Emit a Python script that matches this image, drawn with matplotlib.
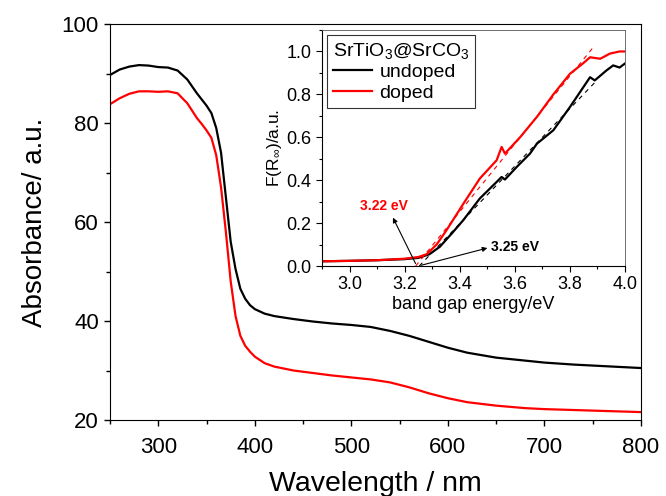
import matplotlib
matplotlib.use("Agg")
import matplotlib.pyplot as plt
from matplotlib.ticker import MultipleLocator

plt.rcParams['font.family'] = ['Liberation Sans', 'DejaVu Sans']
plt.rcParams['mathtext.fontset'] = 'custom'
plt.rcParams['mathtext.rm'] = 'Liberation Sans'
plt.rcParams['mathtext.it'] = 'Liberation Sans:italic'
plt.rcParams['mathtext.default'] = 'regular'

# ---- main spectra ----
wl_undoped = [250, 260, 270, 280, 290, 300, 310, 320, 330, 340, 350, 355, 360, 365, 370,
              375, 380, 385, 390, 395, 400, 410, 420, 440, 460, 480, 500, 520, 540, 560,
              580, 600, 620, 650, 680, 700, 730, 760, 800]
abs_undoped = [89.7, 90.8, 91.4, 91.7, 91.6, 91.3, 91.2, 90.6, 88.8, 86.0, 83.5, 82.0, 79.0,
               74.0, 65.0, 56.0, 50.5, 46.5, 44.5, 43.2, 42.4, 41.5, 41.0, 40.4, 39.9, 39.5,
               39.2, 38.8, 38.0, 37.0, 35.8, 34.6, 33.6, 32.6, 32.0, 31.6, 31.2, 30.9, 30.5]

wl_doped = [250, 260, 270, 280, 290, 300, 310, 320, 330, 340, 345, 350, 355, 360, 365, 370,
            375, 380, 385, 390, 395, 400, 410, 420, 440, 460, 480, 500, 520, 540, 560, 580,
            600, 620, 650, 680, 700, 750, 800]
abs_doped = [83.8, 85.0, 85.9, 86.4, 86.4, 86.3, 86.4, 86.0, 84.0, 81.0, 79.8, 78.5, 77.0,
             73.5, 67.0, 58.0, 48.0, 41.0, 37.0, 35.0, 33.8, 32.8, 31.5, 30.8, 30.0, 29.5,
             29.0, 28.6, 28.2, 27.6, 26.6, 25.4, 24.4, 23.6, 22.9, 22.4, 22.2, 21.9, 21.6]

# ---- inset: Kubelka-Munk ----
e_undoped = [2.9, 3.0, 3.1, 3.2, 3.25, 3.29, 3.328, 3.37, 3.413, 3.473, 3.534, 3.552, 3.564,
             3.607, 3.655, 3.68, 3.74, 3.80, 3.873, 3.89, 3.933, 3.957, 3.98, 4.0]
f_undoped = [0.022, 0.024, 0.027, 0.032, 0.038, 0.055, 0.09, 0.15, 0.214, 0.315, 0.392, 0.415,
             0.403, 0.462, 0.524, 0.57, 0.633, 0.741, 0.88, 0.865, 0.912, 0.935, 0.925, 0.944]

e_doped = [2.9, 3.0, 3.1, 3.2, 3.25, 3.28, 3.316, 3.352, 3.413, 3.473, 3.534, 3.552, 3.564,
           3.619, 3.68, 3.74, 3.80, 3.847, 3.873, 3.91, 3.945, 3.98, 4.0]
f_doped = [0.022, 0.024, 0.027, 0.034, 0.042, 0.055, 0.10, 0.167, 0.29, 0.408, 0.493, 0.555,
           0.524, 0.60, 0.695, 0.80, 0.896, 0.944, 0.973, 0.966, 0.99, 1.0, 1.0]

tan_undoped_e = [3.253, 3.89]
tan_undoped_f = [0.0, 0.855]
tan_doped_e = [3.24, 3.885]
tan_doped_f = [0.0, 1.02]

fig = plt.figure(figsize=(6.66, 4.96), dpi=100)
ax = fig.add_axes([0.1652, 0.1532, 0.7973, 0.7984])
ax.plot(wl_undoped, abs_undoped, color='black', lw=1.6)
ax.plot(wl_doped, abs_doped, color='red', lw=1.6)
ax.set_xlim(250, 800)
ax.set_ylim(20, 100)
ax.xaxis.set_major_locator(MultipleLocator(100))
ax.xaxis.set_minor_locator(MultipleLocator(50))
ax.yaxis.set_major_locator(MultipleLocator(20))
ax.yaxis.set_minor_locator(MultipleLocator(10))
ax.tick_params(which='both', direction='out', top=False, right=False, labelsize=16, width=1)
ax.tick_params(which='major', length=4.5)
ax.tick_params(which='minor', length=3)
ax.tick_params(axis='x', pad=8)
ax.set_xlabel('Wavelength / nm', fontsize=20.5, labelpad=9)
ax.set_ylabel('Absorbance/ a.u.', fontsize=20, labelpad=10)

# inset
ins = fig.add_axes([0.4835, 0.4637, 0.455, 0.4758])
ins.plot(e_undoped, f_undoped, color='black', lw=1.6, label='undoped')
ins.plot(e_doped, f_doped, color='red', lw=1.6, label='doped')
ins.plot(tan_doped_e, tan_doped_f, color='red', lw=0.8, ls=(0, (4, 4)))
ins.plot(tan_undoped_e, tan_undoped_f, color='black', lw=0.8, ls=(0, (4, 4)))
ins.set_xlim(2.9, 4.0)
ins.set_ylim(0, 1.1)
ins.xaxis.set_major_locator(MultipleLocator(0.2))
ins.xaxis.set_minor_locator(MultipleLocator(0.1))
ins.yaxis.set_major_locator(MultipleLocator(0.2))
ins.yaxis.set_minor_locator(MultipleLocator(0.1))
ins.tick_params(which='both', direction='out', top=False, right=False, labelsize=13, width=0.8)
ins.tick_params(which='major', length=4)
ins.tick_params(which='minor', length=2.5)
for s in ['top', 'right']:
    ins.spines[s].set_color('#555555')
    ins.spines[s].set_linewidth(0.6)
ins.set_xlabel('band gap energy/eV', fontsize=13, labelpad=2)
ins.set_ylabel(r'F(R$_{\infty}$)/a.u.', fontsize=12.5, labelpad=2)

leg = ins.legend(title=r'SrTiO$_3$@SrCO$_3$', loc='upper left', fontsize=14, title_fontsize=14,
                 frameon=True, fancybox=False, edgecolor='black', handlelength=2.0,
                 borderaxespad=0.25, labelspacing=0.15, handletextpad=0.4, borderpad=0.3)
leg.get_frame().set_linewidth(0.8)
leg._legend_box.align = 'left'

ins.annotate('', xy=(3.153, 0.237), xytext=(3.244, 0.0),
             arrowprops=dict(arrowstyle='-|>', color='black', lw=0.8, mutation_scale=7))
ins.text(3.123, 0.245, '3.22 eV', color='red', fontsize=10, fontweight='bold', ha='center', va='bottom')
ins.annotate('', xy=(3.51, 0.087), xytext=(3.25, 0.0),
             arrowprops=dict(arrowstyle='-|>', color='black', lw=0.8, mutation_scale=7))
ins.text(3.515, 0.087, '3.25 eV', color='black', fontsize=10, fontweight='bold', ha='left', va='center')

fig.savefig('out.png', dpi=100)
